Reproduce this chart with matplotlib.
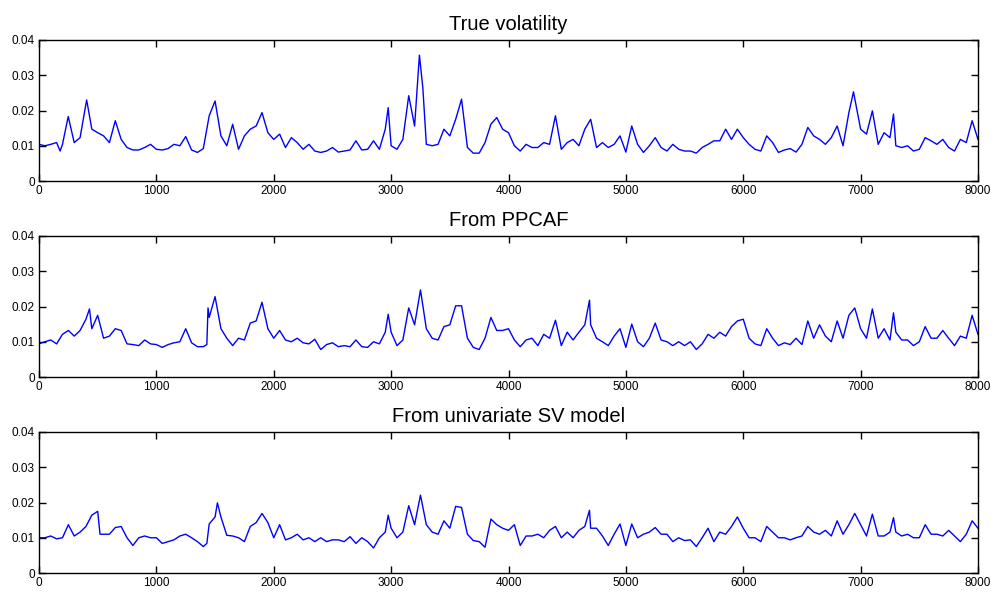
import numpy as np
import matplotlib
matplotlib.use("Agg")
import matplotlib.pyplot as plt

# values (x = time index, y = volatility)
true_x = [0, 50, 100, 150, 180, 200, 249, 300, 350, 406, 450, 500, 550, 600, 650, 700,
          750, 800, 850, 900, 950, 1000, 1050, 1100, 1150, 1200, 1250, 1300, 1350, 1400,
          1450, 1500, 1550, 1600, 1650, 1700, 1750, 1800, 1850, 1900, 1950, 2000,
          2050, 2100, 2150, 2200, 2250, 2300, 2350, 2400, 2450, 2500, 2550, 2600, 2650,
          2700, 2750, 2800, 2850, 2900, 2950, 2975, 3000, 3050, 3100, 3150, 3200, 3241,
          3270, 3300, 3350, 3400, 3450, 3500, 3550, 3600, 3650, 3700, 3750, 3800, 3850,
          3900, 3950, 4000, 4050, 4100, 4150, 4200, 4250, 4300, 4350, 4400, 4450, 4500,
          4550, 4600, 4650, 4700, 4750, 4800, 4850, 4900, 4950, 5000, 5050, 5100, 5150,
          5200, 5250, 5300, 5350, 5400, 5450, 5500, 5550, 5600, 5650, 5700, 5750, 5800,
          5850, 5900, 5950, 6000, 6050, 6100, 6150, 6200, 6250, 6300, 6350, 6400, 6450,
          6500, 6550, 6600, 6650, 6700, 6750, 6800, 6850, 6900, 6939, 7000, 7050, 7100,
          7150, 7200, 7250, 7280, 7300, 7350, 7400, 7450, 7500, 7550, 7600, 7650, 7700,
          7750, 7800, 7850, 7900, 7950, 8000]
true_y = [0.0104, 0.0100, 0.0104, 0.0109, 0.0085, 0.0104, 0.0183, 0.0109, 0.0123, 0.0230,
          0.0147, 0.0137, 0.0128, 0.0109, 0.0171, 0.0118, 0.0095, 0.0088, 0.0088, 0.0095,
          0.0104, 0.0090, 0.0088, 0.0092, 0.0104, 0.0100, 0.0126, 0.0088, 0.0081, 0.0092,
          0.0185, 0.0227, 0.0128, 0.0100, 0.0161, 0.0090, 0.0128, 0.0147, 0.0156, 0.0194,
          0.0137, 0.0118, 0.0133, 0.0095, 0.0123, 0.0109, 0.0090, 0.0104, 0.0085, 0.0081,
          0.0085, 0.0095, 0.0082, 0.0085, 0.0088, 0.0114, 0.0088, 0.0090, 0.0114, 0.0090,
          0.0147, 0.0208, 0.0100, 0.0090, 0.0118, 0.0242, 0.0156, 0.0357, 0.0265, 0.0104,
          0.0100, 0.0104, 0.0147, 0.0128, 0.0175, 0.0232, 0.0095, 0.0079, 0.0079, 0.0109,
          0.0161, 0.0180, 0.0147, 0.0137, 0.0100, 0.0085, 0.0104, 0.0095, 0.0095, 0.0109,
          0.0104, 0.0185, 0.0090, 0.0109, 0.0118, 0.0100, 0.0147, 0.0175, 0.0095, 0.0109,
          0.0095, 0.0104, 0.0128, 0.0082, 0.0156, 0.0104, 0.0081, 0.0100, 0.0123, 0.0095,
          0.0085, 0.0104, 0.0090, 0.0085, 0.0085, 0.0079, 0.0095, 0.0104, 0.0114, 0.0114,
          0.0147, 0.0118, 0.0147, 0.0123, 0.0104, 0.0090, 0.0085, 0.0128, 0.0109, 0.0081,
          0.0088, 0.0092, 0.0082, 0.0104, 0.0152, 0.0128, 0.0118, 0.0104, 0.0123, 0.0156,
          0.0100, 0.0194, 0.0253, 0.0147, 0.0133, 0.0199, 0.0104, 0.0137, 0.0123, 0.0190,
          0.0100, 0.0095, 0.0100, 0.0085, 0.0090, 0.0123, 0.0114, 0.0104, 0.0118, 0.0095,
          0.0085, 0.0118, 0.0109, 0.0171, 0.0118]

ppcaf_x = [0, 50, 100, 150, 200, 250, 300, 350, 400, 430, 450, 500, 550, 600, 650, 700,
           750, 800, 850, 900, 950, 1000, 1050, 1100, 1150, 1200, 1250, 1300, 1350, 1400,
           1430, 1440, 1450, 1500, 1550, 1600, 1650, 1700, 1750, 1800, 1850, 1900, 1950,
           2000, 2050, 2100, 2150, 2200, 2250, 2300, 2350, 2400, 2450, 2500, 2550, 2600,
           2650, 2700, 2750, 2800, 2850, 2900, 2950, 2975, 3000, 3050, 3100, 3150, 3200,
           3250, 3300, 3350, 3400, 3450, 3500, 3550, 3600, 3650, 3700, 3750, 3800, 3850,
           3900, 3950, 4000, 4050, 4100, 4150, 4200, 4250, 4300, 4350, 4400, 4450, 4500,
           4550, 4600, 4650, 4690, 4700, 4750, 4800, 4850, 4900, 4950, 5000, 5050, 5100,
           5150, 5200, 5250, 5300, 5350, 5400, 5450, 5500, 5550, 5600, 5650, 5700, 5750,
           5800, 5850, 5900, 5950, 6000, 6050, 6100, 6150, 6200, 6250, 6300, 6350, 6400,
           6450, 6500, 6550, 6600, 6650, 6700, 6750, 6800, 6850, 6900, 6950, 7000, 7050,
           7100, 7150, 7200, 7250, 7280, 7300, 7350, 7400, 7450, 7500, 7550, 7600, 7650,
           7700, 7750, 7800, 7850, 7900, 7950, 8000]
ppcaf_y = [0.0094, 0.0100, 0.0105, 0.0094, 0.0121, 0.0132, 0.0116, 0.0132, 0.0164, 0.0193,
           0.0137, 0.0175, 0.0110, 0.0116, 0.0137, 0.0132, 0.0094, 0.0092, 0.0089, 0.0105,
           0.0094, 0.0092, 0.0084, 0.0092, 0.0097, 0.0100, 0.0137, 0.0097, 0.0086, 0.0086,
           0.0092, 0.0196, 0.0169, 0.0228, 0.0137, 0.0110, 0.0089, 0.0110, 0.0105, 0.0153,
           0.0159, 0.0212, 0.0137, 0.0110, 0.0132, 0.0105, 0.0100, 0.0110, 0.0097, 0.0094,
           0.0107, 0.0078, 0.0092, 0.0097, 0.0086, 0.0089, 0.0086, 0.0105, 0.0086, 0.0084,
           0.0100, 0.0094, 0.0127, 0.0178, 0.0127, 0.0089, 0.0105, 0.0196, 0.0148, 0.0247,
           0.0137, 0.0110, 0.0105, 0.0143, 0.0148, 0.0202, 0.0202, 0.0110, 0.0084, 0.0078,
           0.0110, 0.0169, 0.0132, 0.0132, 0.0137, 0.0105, 0.0086, 0.0105, 0.0110, 0.0089,
           0.0121, 0.0110, 0.0161, 0.0089, 0.0127, 0.0105, 0.0127, 0.0148, 0.0218, 0.0148,
           0.0110, 0.0100, 0.0089, 0.0116, 0.0137, 0.0084, 0.0150, 0.0100, 0.0086, 0.0110,
           0.0153, 0.0105, 0.0100, 0.0089, 0.0100, 0.0089, 0.0100, 0.0078, 0.0094, 0.0121,
           0.0110, 0.0127, 0.0116, 0.0143, 0.0159, 0.0164, 0.0110, 0.0094, 0.0089, 0.0137,
           0.0110, 0.0089, 0.0097, 0.0092, 0.0110, 0.0092, 0.0159, 0.0110, 0.0148, 0.0116,
           0.0100, 0.0159, 0.0110, 0.0175, 0.0196, 0.0137, 0.0110, 0.0193, 0.0110, 0.0137,
           0.0105, 0.0182, 0.0127, 0.0105, 0.0105, 0.0089, 0.0100, 0.0143, 0.0110, 0.0110,
           0.0132, 0.0110, 0.0089, 0.0116, 0.0110, 0.0175, 0.0121]

sv_x = [0, 50, 100, 150, 200, 250, 300, 350, 400, 450, 500, 520, 550, 600, 650, 700, 750,
        800, 850, 900, 950, 1000, 1050, 1100, 1150, 1200, 1250, 1300, 1350, 1400, 1430,
        1450, 1500, 1520, 1550, 1600, 1650, 1700, 1750, 1800, 1850, 1900, 1950, 2000,
        2050, 2100, 2150, 2200, 2250, 2300, 2350, 2400, 2450, 2500, 2550, 2600, 2650,
        2700, 2750, 2800, 2850, 2900, 2950, 2975, 3000, 3050, 3100, 3150, 3200, 3250,
        3300, 3350, 3400, 3450, 3500, 3550, 3600, 3650, 3700, 3750, 3800, 3850, 3900,
        3950, 4000, 4050, 4100, 4150, 4200, 4250, 4300, 4350, 4400, 4450, 4500, 4550,
        4600, 4650, 4690, 4700, 4750, 4800, 4850, 4900, 4950, 5000, 5050, 5100, 5150,
        5200, 5250, 5300, 5350, 5400, 5450, 5500, 5550, 5600, 5650, 5700, 5750, 5800,
        5850, 5900, 5950, 6000, 6050, 6100, 6150, 6200, 6250, 6300, 6350, 6400, 6450,
        6500, 6550, 6600, 6650, 6700, 6750, 6800, 6850, 6900, 6950, 7000, 7050, 7100,
        7150, 7200, 7250, 7280, 7300, 7350, 7400, 7450, 7500, 7550, 7600, 7650, 7700,
        7750, 7800, 7850, 7900, 7950, 8000]
sv_y = [0.0100, 0.0100, 0.0105, 0.0097, 0.0100, 0.0137, 0.0105, 0.0116, 0.0132, 0.0164,
        0.0175, 0.0110, 0.0110, 0.0110, 0.0129, 0.0132, 0.0100, 0.0078, 0.0100, 0.0105,
        0.0100, 0.0100, 0.0084, 0.0089, 0.0094, 0.0105, 0.0110, 0.0100, 0.0089, 0.0075,
        0.0084, 0.0139, 0.0159, 0.0199, 0.0159, 0.0107, 0.0105, 0.0100, 0.0089, 0.0132,
        0.0143, 0.0169, 0.0143, 0.0100, 0.0137, 0.0094, 0.0100, 0.0110, 0.0094, 0.0100,
        0.0089, 0.0100, 0.0089, 0.0094, 0.0094, 0.0089, 0.0103, 0.0084, 0.0100, 0.0089,
        0.0071, 0.0100, 0.0116, 0.0164, 0.0127, 0.0100, 0.0116, 0.0191, 0.0137, 0.0221,
        0.0137, 0.0116, 0.0110, 0.0148, 0.0127, 0.0189, 0.0186, 0.0110, 0.0092, 0.0089,
        0.0073, 0.0153, 0.0137, 0.0127, 0.0121, 0.0137, 0.0078, 0.0105, 0.0105, 0.0110,
        0.0100, 0.0121, 0.0132, 0.0100, 0.0116, 0.0100, 0.0121, 0.0132, 0.0178, 0.0127,
        0.0127, 0.0105, 0.0078, 0.0110, 0.0139, 0.0078, 0.0139, 0.0100, 0.0110, 0.0116,
        0.0129, 0.0110, 0.0110, 0.0089, 0.0100, 0.0092, 0.0094, 0.0075, 0.0100, 0.0127,
        0.0089, 0.0116, 0.0110, 0.0132, 0.0159, 0.0127, 0.0100, 0.0100, 0.0089, 0.0132,
        0.0116, 0.0100, 0.0100, 0.0094, 0.0100, 0.0105, 0.0132, 0.0116, 0.0110, 0.0121,
        0.0105, 0.0148, 0.0110, 0.0137, 0.0169, 0.0137, 0.0105, 0.0167, 0.0105, 0.0105,
        0.0116, 0.0157, 0.0116, 0.0105, 0.0110, 0.0100, 0.0100, 0.0137, 0.0110, 0.0110,
        0.0105, 0.0121, 0.0105, 0.0089, 0.0110, 0.0148, 0.0127]

titles = ["True volatility", "From PPCAF", "From univariate SV model"]
x_ticks = [0, 1000, 2000, 3000, 4000, 5000, 6000, 7000, 8000]
y_ticks = [0, 0.01, 0.02, 0.03, 0.04]
y_ticklabels = ["0", "0.01", "0.02", "0.03", "0.04"]

plt.rcParams['font.family'] = ['Liberation Sans', 'DejaVu Sans']

W, H = 995, 592
fig = plt.figure(figsize=(W / 100, H / 100), dpi=100, facecolor='white')

# axes boxes in pixels: (left, top, right, bottom)
boxes = [(39, 40, 978, 181), (39, 236, 978, 377), (39, 432, 978, 573)]
series = [(true_x, true_y), (ppcaf_x, ppcaf_y), (sv_x, sv_y)]

for (l, t, r, b), (xs, ys), title in zip(boxes, series, titles):
    ax = fig.add_axes([l / W, 1 - b / H, (r - l) / W, (b - t) / H])
    ax.plot(xs, ys, color='#0000ff', lw=1.0)
    ax.set_xlim(0, 8000)
    ax.set_ylim(0, 0.04)
    ax.set_xticks(x_ticks)
    ax.set_xticklabels([str(v) for v in x_ticks])
    ax.set_yticks(y_ticks)
    ax.set_yticklabels(y_ticklabels)
    ax.tick_params(direction='in', top=True, right=True, length=5, width=1,
                   labelsize=8.5, pad=3, colors='black')
    for sp in ax.spines.values():
        sp.set_linewidth(1.0)
    ax.set_title(title, fontsize=14.5, pad=7)

fig.savefig("out.png", dpi=100, facecolor='white')
